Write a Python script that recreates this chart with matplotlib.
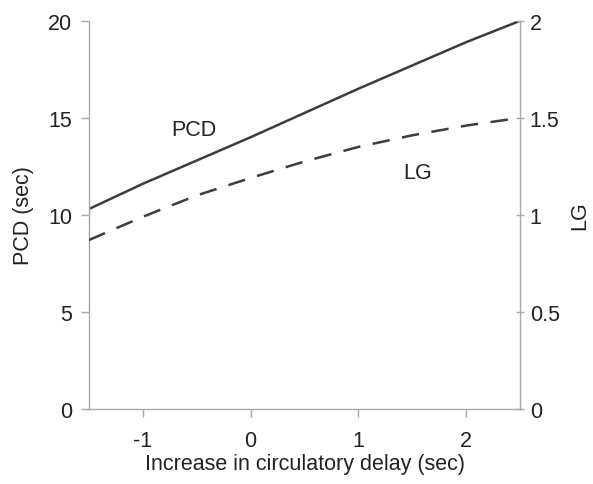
import numpy as np
import matplotlib
matplotlib.use('Agg')
import matplotlib.pyplot as plt

plt.rcParams['font.family'] = ['Liberation Sans', 'DejaVu Sans']

# data
delay = [-1.5, -1.0, -0.5, 0.0, 0.5, 1.0, 1.5, 2.0, 2.5]
pcd = [10.3, 11.6, 12.8, 14.0, 15.25, 16.5, 17.7, 18.9, 20.0]
lg = [0.87, 0.99, 1.10, 1.19, 1.275, 1.35, 1.41, 1.46, 1.50]

xticks = [-1, 0, 1, 2]
lticks = [0, 5, 10, 15, 20]
rticks = [0, 0.5, 1, 1.5, 2]
rlabels = ['0', '0.5', '1', '1.5', '2']

fig = plt.figure(figsize=(5.93, 4.85), dpi=100)
ax = fig.add_axes([0.150, 0.155, 0.727, 0.800])
ax2 = ax.twinx()

ax.plot(delay, pcd, color='#3c3c3c', lw=1.8, solid_capstyle='butt')
ax2.plot(delay, lg, color='#3c3c3c', lw=1.8, dashes=(7, 5))

ax.set_xlim(-1.5, 2.5)
ax.set_ylim(0, 20)
ax2.set_ylim(0, 2)
ax.set_xticks(xticks)
ax.set_xticklabels([str(t) for t in xticks])
ax.set_yticks(lticks)
ax2.set_yticks(rticks)
ax2.set_yticklabels(rlabels)

grey = '#a8a8a8'
for a in (ax, ax2):
    a.spines['top'].set_visible(False)
    for s in ('left', 'right', 'bottom'):
        a.spines[s].set_color(grey)
        a.spines[s].set_linewidth(1.0)
ax.spines['right'].set_visible(False)
ax2.spines['left'].set_visible(False)
ax2.spines['bottom'].set_visible(False)

fs = 15.5
ax.tick_params(axis='both', colors=grey, labelcolor='#222222', labelsize=fs, length=6, width=1.0, pad=6)
ax.tick_params(axis='x', pad=9)
ax2.tick_params(axis='y', colors=grey, labelcolor='#222222', labelsize=fs, length=6, width=1.0, direction='inout', pad=4)

ax.set_xlabel('Increase in circulatory delay (sec)', fontsize=fs, color='#222222', labelpad=2)
ax.set_ylabel('PCD (sec)', fontsize=fs, color='#222222', labelpad=10)
ax2.set_ylabel('LG', fontsize=fs, color='#222222', labelpad=7)

ax.text(-0.53, 14.4, 'PCD', fontsize=fs, color='#222222', ha='center', va='center')
ax.text(1.55, 12.2, 'LG', fontsize=fs, color='#222222', ha='center', va='center')

fig.savefig('out.png', dpi=100)
